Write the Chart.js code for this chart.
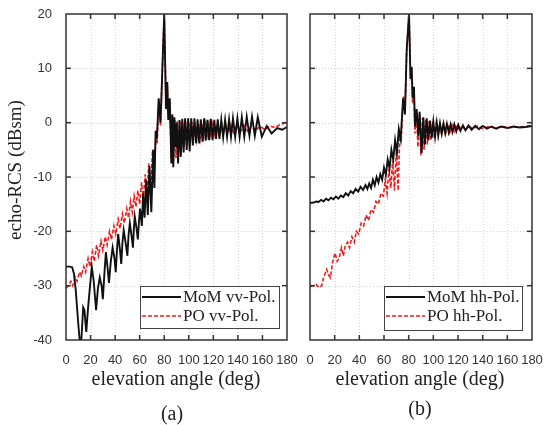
<!DOCTYPE html>
<html lang="en">
<head>
  <meta charset="UTF-8" />
  <title>echo-RCS vs elevation angle</title>
  <script src="https://cdn.jsdelivr.net/npm/chart.js"></script>
  <style>
    body { margin: 0; background: #fff; }
    .wrap { position: relative; width: 555px; height: 425px; }
    canvas { position: absolute; left: 0; top: 0; }
  </style>
</head>
<body>
  <div class="wrap">
    <canvas id="chartA" width="555" height="425"></canvas>
    <canvas id="chartB" width="555" height="425"></canvas>
  </div>

  <script>
    // axis ticks
    const xTicks = [0, 20, 40, 60, 80, 100, 120, 140, 160, 180];
    const yTicks = [-40, -30, -20, -10, 0, 10, 20];

    // (a) vv polarisation, MoM (solid black)
    const vvMomDeg = [0,3,5,6.5,8,10,11.5,12.5,14,15,
      16.5,18,21,22.5,24.5,26,27.5,29,30,31.5,
      32.5,34,35,36.5,38,39.5,40.5,41.5,42.5,44,
      45,46,47,48.5,50,51,52,53.5,54.5,55.3,
      56,57.5,58.5,59.5,60.3,61.8,62.8,64,65.3,66.6,
      68,69.5,71,72,73,74,75.5,77,78.5,80,
      81.5,82.5,83.3,84.5,85.8,86.6,87.4,88.3,89.4,90.2,
      91.3,92.4,93.5,94.7,95.8,97,98.3,99.5,100.7,102,
      103.3,104.6,105.9,107.2,108.5,109.8,111.2,112.5,113.8,115.2,
      116.6,118,119.4,120.8,122.2,123.6,125,126.5,128,129.6,
      131.2,132.8,134.4,136,137.8,139.6,141.4,143.2,145.2,147.2,
      149.4,151.5,153.8,156.2,159.5,163.5,167.5,172,176,180];
    const vvMom = [-26.5,-26.5,-26.6,-27.8,-31,-37,-41,-40,-34,-34.5,
      -38.5,-34,-26.5,-29,-34.5,-30.5,-28.5,-30,-32.5,-27,
      -23.8,-27,-29.5,-25.5,-23,-25,-27.5,-23.5,-20.5,-23.5,
      -26,-22,-19.8,-22,-24.5,-20.5,-18.5,-21,-23,-19.5,
      -17.3,-19.5,-21.5,-18,-15.8,-19,-13,-17.5,-10.5,-17,
      -8,-16.5,-5,-12,-1.5,-3,4.5,0,10,20,
      2.5,7.5,0.5,4.5,-7.5,1.5,-8.2,1,-4.5,0,
      -7.5,0.5,-6.3,0.7,-5.5,0.8,-5,0.8,-5.3,0.8,
      -4.2,0.8,-3.8,0.6,-3.8,0.6,-3.5,0.8,-3.3,0.5,
      -3.2,0.7,-3.2,0.5,-3,0.6,-3,0.5,-2.7,0.5,
      -2.6,0.6,-2.6,0.8,-2.6,0.8,-2.6,1.0,-2.6,1.1,
      -2.4,1.1,-2.4,1.0,-2.6,-0.6,-2.0,-1.0,-1.3,-0.8];

    // (a) vv polarisation, PO (dashed red)
    const vvPoDeg = [0,2,4,5.5,7.5,9,11,12.5,14.5,16,
      18,19.5,21.5,23,25,26.5,28.5,30,32,33.5,
      35.5,37,39,40.5,42.5,44,46,47.5,49.5,51,
      52.5,54,55.5,57,58.5,60,61.5,63,64.5,66,
      67.5,69,70.5,72,73.2,74.2,75.5,77,78.5,80,
      81.5,82.5,83.3,84.5,85.8,86.6,87.6,88.6,89.6,90.6,
      91.7,92.8,93.9,95,96.2,97.4,98.7,99.9,101.2,102.5,
      103.8,105.1,106.5,107.8,109.2,110.5,112,113.4,115,116.5,
      118,119.6,121.2,122.8,124.5,126.2,128,130,132,134,
      136.5,139,142,145,148,151,154.5,158,162,166,
      170,175,180];
    const vvPo = [-30.5,-30,-29.2,-30,-28.5,-29.2,-27.5,-28.2,-26.5,-27.5,
      -25,-26.5,-23.8,-25.5,-22.5,-24.5,-21.8,-23.5,-21,-22.5,
      -20,-21.5,-19,-20.5,-17.8,-19.5,-16.8,-18.5,-15.8,-17.5,
      -14.5,-16.5,-13.5,-15.5,-12.5,-15,-11,-14,-9.5,-13,
      -7.5,-12,-5,-9,-2,-4,4,-0.5,10,20,
      3,7,1,4,-6.5,1.5,-7,0.5,-6.5,0.3,
      -6,0.3,-5,0.2,-4.5,0.2,-4,0.2,-3.5,0.1,
      -3.2,0,-3,0,-2.8,-0.1,-2.6,-0.1,-2.4,-0.2,
      -2.3,-0.2,-2.2,-0.3,-2.1,-0.3,-2,-0.4,-1.9,-0.4,
      -1.8,-0.5,-1.7,-0.5,-1.6,-0.6,-1.5,-0.6,-1.3,-0.6,
      -0.9,-0.3,0];

    // (b) hh polarisation, MoM (solid black)
    const hhMomDeg = [0,3,5,7,9,11,13,15,17,19,
      21,23,25,27,29,31,33,35,37,39,
      41,43,45,46.5,48,49.5,51,52.5,54,55.5,
      57,58.5,60,61.5,63,64.5,66,67.5,69,70.5,
      72,73.5,75.5,77,78.4,80.3,81.5,82.4,83.2,84.3,
      85.1,86.5,87.8,88.9,90.5,91.9,93.2,94.6,96,97.3,
      98.7,100,101.4,102.8,104.1,105.4,106.8,108.2,109.6,111,
      112.5,114,115.5,117,118.6,120.2,122,124,126,128.5,
      131,134,137,140,143.5,147,151,155,160,165,
      170,175,180];
    const hhMom = [-14.8,-14.7,-14.5,-14.6,-14.2,-14.5,-14,-14.3,-13.8,-14.1,
      -13.6,-14,-13.4,-13.7,-13,-13.4,-12.6,-13,-12.2,-12.7,
      -11.8,-12.4,-11.5,-12.2,-11.2,-12,-10.5,-11.5,-10,-11,
      -9.5,-10.5,-8.3,-9.6,-6.8,-8.4,-5,-6.8,-3.2,-5.5,
      -1.2,-3,4.5,1.5,13.4,20,8,10.3,4.5,6.6,
      -0.7,2.5,-2.5,2,-5.6,1,-4,0.8,-3.2,0.4,
      -2.8,0.2,-2.6,0,-2.2,-0.1,-2,-0.2,-1.9,-0.2,
      -1.8,-0.3,-1.7,-0.3,-1.6,-0.4,-1.5,-0.5,-1.4,-0.5,
      -1.3,-0.6,-1.2,-0.6,-1.1,-0.7,-1.1,-0.7,-1.0,-0.7,
      -0.9,-0.8,-0.6];

    // (b) hh polarisation, PO (dashed red)
    const hhPoDeg = [0,3,5,7,9.5,11,13.5,15,16.5,18.5,
      20.3,22,23.5,25.5,27,28.5,30.5,32,34,36,
      37.5,39.5,41.5,43.5,45.5,47.5,49.5,51.5,53.5,55.5,
      57.5,59.5,61,62.5,64,65.5,67,68.5,70,71.5,
      72.8,74,75.7,77,78.4,80.3,81.5,82.4,83.2,84.3,
      85.1,86.3,87.5,88.7,89.9,91.2,92.5,93.8,95.2,96.6,
      98,99.4,100.8,102.3,103.8,105.3,106.8,108.4,110,111.7,
      113.4,115.2,117,119,121,123.5,126,129,132,136,
      140,145,150,156,162,168,174,180];
    const hhPo = [-30.2,-30,-29.8,-30.3,-30,-28.5,-27,-28,-28.5,-25.5,
      -24,-25.5,-25,-23,-24.5,-22.8,-22,-23,-21,-22,
      -20,-20.5,-18.5,-19,-17,-18,-16,-16.5,-14.5,-15,
      -13,-13.5,-10.5,-13,-8.5,-12,-7,-12.5,-5,-12.5,
      -2,-3,4.8,2,13.4,20,8.5,10,3.5,6,
      -2,2,-4.5,1.5,-6,0.8,-5,0.5,-4,0.3,
      -3.3,0.2,-2.8,0,-2.5,-0.1,-2.2,-0.2,-2,-0.3,
      -1.8,-0.4,-1.6,-0.4,-1.5,-0.5,-1.4,-0.6,-1.2,-0.6,
      -1.1,-0.7,-1,-0.7,-0.9,-0.8,-0.7,-0.5];

    const RED = '#ee1c1c';
    const SERIF = '"Liberation Serif", "DejaVu Serif", serif';
    const SANS = '"Liberation Sans", Arial, sans-serif';

    function toPoints(xs, ys) {
      return xs.map((x, i) => ({ x: x, y: ys[i] }));
    }

    function line(ctx, x1, y1, x2, y2) {
      ctx.beginPath();
      ctx.moveTo(x1, y1);
      ctx.lineTo(x2, y2);
      ctx.stroke();
    }

    // grid, frame with inward ticks, legend and titles
    function panelPlugin(p) {
      return {
        id: 'panel',
        beforeDatasetsDraw(chart) {
          const { ctx, chartArea: a, scales: { x, y } } = chart;
          ctx.save();
          ctx.strokeStyle = '#d4d4d4';
          ctx.lineWidth = 1;
          ctx.setLineDash([1, 2]);
          xTicks.slice(1, -1).forEach(v => {
            const px = Math.round(x.getPixelForValue(v)) + 0.5;
            line(ctx, px, a.top, px, a.bottom);
          });
          yTicks.slice(1, -1).forEach(v => {
            const py = Math.round(y.getPixelForValue(v)) + 0.5;
            line(ctx, a.left, py, a.right, py);
          });
          ctx.restore();
        },
        afterDatasetsDraw(chart) {
          const { ctx, chartArea: a, scales: { x, y } } = chart;
          ctx.save();
          ctx.strokeStyle = '#333';
          ctx.lineWidth = 1.5;
          ctx.strokeRect(a.left, a.top, a.right - a.left, a.bottom - a.top);
          xTicks.slice(1, -1).forEach(v => {
            const px = x.getPixelForValue(v);
            line(ctx, px, a.bottom, px, a.bottom - 5);
            line(ctx, px, a.top, px, a.top + 5);
          });
          yTicks.slice(1, -1).forEach(v => {
            const py = y.getPixelForValue(v);
            line(ctx, a.left, py, a.left + 5, py);
            line(ctx, a.right, py, a.right - 5, py);
          });

          // legend
          const L = p.legend;
          ctx.fillStyle = '#fff';
          ctx.fillRect(L.x, L.y, L.w, L.h);
          ctx.strokeStyle = '#444';
          ctx.lineWidth = 1;
          ctx.strokeRect(L.x + 0.5, L.y + 0.5, L.w, L.h);
          ctx.font = '17px ' + SERIF;
          ctx.textBaseline = 'middle';
          ctx.textAlign = 'left';
          ctx.strokeStyle = '#111';
          ctx.lineWidth = 2;
          line(ctx, L.x + 2, L.y + 11, L.x + 41, L.y + 11);
          ctx.strokeStyle = RED;
          ctx.lineWidth = 1.7;
          ctx.setLineDash([4, 2]);
          line(ctx, L.x + 2, L.y + 30, L.x + 41, L.y + 30);
          ctx.setLineDash([]);
          ctx.fillStyle = '#222';
          ctx.fillText(p.names[0], L.x + 43, L.y + 12);
          ctx.fillText(p.names[1], L.x + 43, L.y + 31);

          // titles
          ctx.font = '20px ' + SERIF;
          ctx.textAlign = 'center';
          ctx.fillText('elevation angle (deg)', p.xTitleX, 380);
          ctx.fillText(p.tag, p.tagX, p.tagY);
          if (p.yTitle) {
            ctx.translate(16, 170);
            ctx.rotate(-Math.PI / 2);
            ctx.font = '19px ' + SERIF;
            ctx.fillText(p.yTitle, 0, 0);
          }
          ctx.restore();
        }
      };
    }

    function makePanel(id, mom, po, p) {
      new Chart(document.getElementById(id), {
        type: 'line',
        data: {
          datasets: [
            { data: mom, borderColor: '#111', borderWidth: 1.9, pointRadius: 0, tension: 0 },
            { data: po, borderColor: RED, borderWidth: 1.6, borderDash: [4, 2], pointRadius: 0, tension: 0 }
          ]
        },
        options: {
          responsive: false,
          animation: false,
          devicePixelRatio: 1,
          layout: { padding: p.padding },
          plugins: { legend: { display: false }, tooltip: { enabled: false } },
          scales: {
            x: {
              type: 'linear',
              min: 0, max: 180,
              afterFit: s => { s.height = 85; },
              afterBuildTicks: s => { s.ticks = xTicks.map(v => ({ value: v })); },
              grid: { display: false },
              border: { display: false },
              ticks: { autoSkip: false, maxRotation: 0, padding: 5, color: '#333', font: { family: SANS, size: 13 } }
            },
            y: {
              min: -40, max: 20,
              afterFit: s => { s.width = p.yWidth; },
              afterBuildTicks: s => { s.ticks = yTicks.map(v => ({ value: v })); },
              grid: { display: false },
              border: { display: false },
              ticks: { display: p.yLabels, padding: 6, color: '#333', font: { family: SANS, size: 13 } }
            }
          }
        },
        plugins: [panelPlugin(p)]
      });
    }

    makePanel('chartA', toPoints(vvMomDeg, vvMom), toPoints(vvPoDeg, vvPo), {
      padding: { left: 0, top: 14, right: 268, bottom: 0 },
      yWidth: 66, yLabels: true,
      legend: { x: 140, y: 286, w: 139, h: 42 },
      names: ['MoM vv-Pol.', 'PO vv-Pol.'],
      xTitleX: 176, tag: '(a)', tagX: 172, tagY: 415,
      yTitle: 'echo-RCS (dBsm)'
    });

    makePanel('chartB', toPoints(hhMomDeg, hhMom), toPoints(hhPoDeg, hhPo), {
      padding: { left: 300, top: 14, right: 23, bottom: 0 },
      yWidth: 10, yLabels: false,
      legend: { x: 384, y: 286, w: 138, h: 44 },
      names: ['MoM hh-Pol.', 'PO hh-Pol.'],
      xTitleX: 420, tag: '(b)', tagX: 420, tagY: 410,
      yTitle: null
    });
  </script>
</body>
</html>
